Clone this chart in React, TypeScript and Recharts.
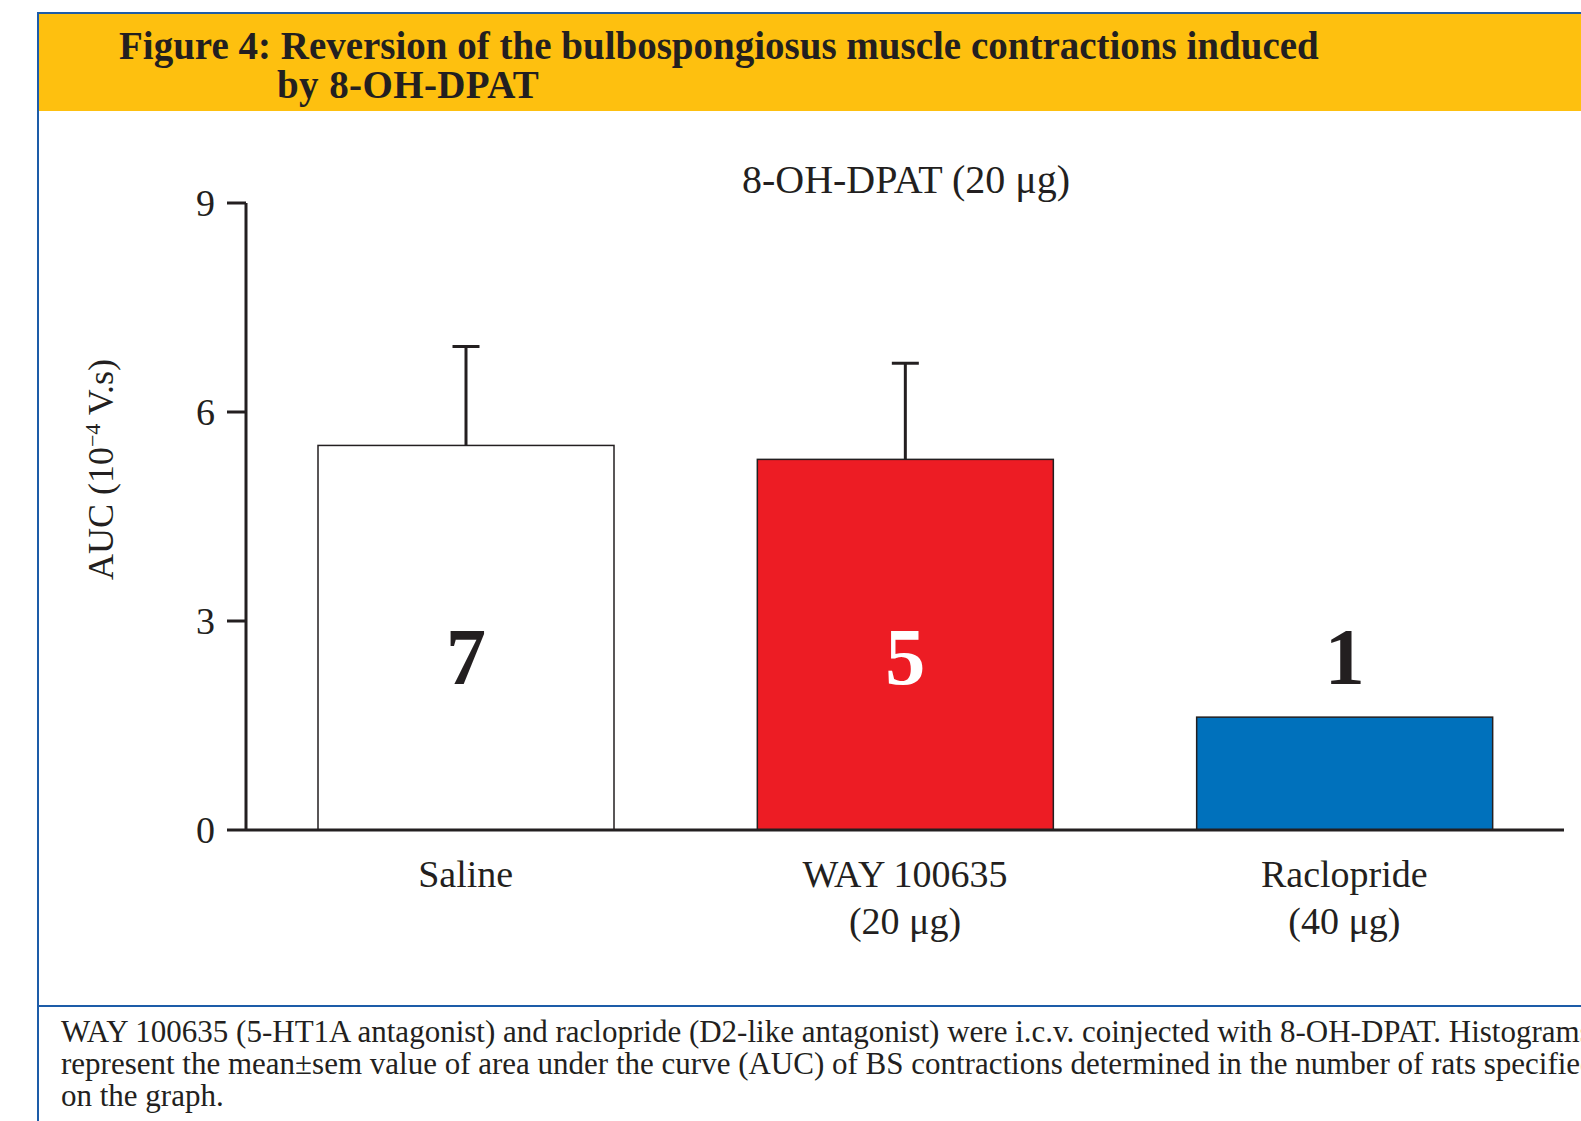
import React from 'react';
import { BarChart, Bar, XAxis, YAxis, Cell, LabelList, Label } from 'recharts';

// values (AUC in 10^-4 V.s)
const categories = ['Saline', 'WAY 100635\n(20 μg)', 'Raclopride\n(40 μg)'];
const auc = [5.52, 5.32, 1.62];
const semUp = [1.42, 1.38, 0];
const nRats = [7, 5, 1];
const yTicks = [0, 3, 6, 9];

const FILLS = ['#ffffff', '#ed1c24', '#0071bc'];
const N_COLORS = ['#231f20', '#ffffff', '#231f20'];
const INK = '#231f20';
const BLUE = '#1d5ca8';
const FONT = '"Liberation Serif", "DejaVu Serif", serif';

const data = categories.map((name, i) => ({
  name,
  auc: auc[i],
  sem: semUp[i],
  n: nRats[i],
}));

const CategoryTick = ({ x, y, payload }: any) => {
  const lines = String(payload.value).split('\n');
  return (
    <text x={x} y={y + 57} textAnchor="middle" fontSize={38} fontFamily={FONT} fill={INK}>
      {lines.map((l, i) => (
        <tspan key={i} x={x} dy={i === 0 ? 0 : 47}>{l}</tspan>
      ))}
    </text>
  );
};

// bar + upper-only sem whisker, scaled from the bar's own pixel height
const BarWithSem = (props: any) => {
  const { x, y, width, height, fill, payload } = props;
  const pxPerUnit = payload.auc ? height / payload.auc : 0;
  const top = y - payload.sem * pxPerUnit;
  const cx = x + width / 2;
  return (
    <g>
      <rect x={x} y={y} width={width} height={height} fill={fill} stroke={INK} strokeWidth={1.5} />
      {payload.sem > 0 && (
        <g stroke={INK} strokeWidth={3}>
          <line x1={cx} x2={cx} y1={y} y2={top} />
          <line x1={cx - 13.5} x2={cx + 13.5} y1={top} y2={top} />
        </g>
      )}
    </g>
  );
};

const CountLabel = (props: any) => {
  const { x, y, width, height, value, index } = props;
  return (
    <text
      x={x + width / 2}
      y={y + height - 146}
      textAnchor="middle"
      fontSize={80}
      fontWeight="bold"
      fontFamily={FONT}
      fill={N_COLORS[index] || INK}
    >
      {value}
    </text>
  );
};

const AxisTitle = ({ viewBox }: any) => {
  const cx = viewBox.x + 28;
  const cy = viewBox.y + viewBox.height / 2 - 47;
  return (
    <text
      x={cx}
      y={cy}
      transform={`rotate(-90 ${cx} ${cy})`}
      textAnchor="middle"
      fontSize={36}
      fontFamily={FONT}
      fill={INK}
    >
      AUC (10<tspan dy={-13} fontSize={22}>−4</tspan>
      <tspan dy={13}> V.s)</tspan>
    </text>
  );
};

export default function App() {
  return (
    <div
      style={{
        position: 'absolute',
        left: 0,
        top: 0,
        width: 1581,
        height: 1121,
        background: '#fff',
        overflow: 'hidden',
        fontFamily: FONT,
        color: INK,
      }}
    >
      {/* frame */}
      <div style={{ position: 'absolute', left: 37, top: 12, width: 1544, height: 2, background: BLUE }} />
      <div style={{ position: 'absolute', left: 37, top: 12, width: 2, height: 1109, background: BLUE }} />
      <div style={{ position: 'absolute', left: 39, top: 14, width: 1542, height: 97, background: '#fec00f' }} />
      <div style={{ position: 'absolute', left: 39, top: 1005, width: 1542, height: 2, background: BLUE }} />

      {/* figure title */}
      <div style={{ position: 'absolute', left: 119, top: 26, fontSize: 39, lineHeight: '39px', fontWeight: 'bold', whiteSpace: 'nowrap' }}>
        Figure 4: Reversion of the bulbospongiosus muscle contractions induced
      </div>
      <div style={{ position: 'absolute', left: 277, top: 65, fontSize: 39, lineHeight: '39px', fontWeight: 'bold', letterSpacing: '0.4px', whiteSpace: 'nowrap' }}>
        by 8-OH-DPAT
      </div>

      {/* chart subtitle */}
      <div style={{ position: 'absolute', left: 606, top: 160, width: 600, textAlign: 'center', fontSize: 40, lineHeight: '40px', whiteSpace: 'nowrap' }}>
        8-OH-DPAT (20 μg)
      </div>

      <div style={{ position: 'absolute', left: 0, top: 0 }}>
        <BarChart
          width={1581}
          height={1005}
          data={data}
          margin={{ top: 203, right: 17, bottom: 45, left: 85 }}
        >
          <XAxis
            dataKey="name"
            interval={0}
            height={130}
            tickLine={false}
            tickSize={0}
            tickMargin={0}
            axisLine={{ stroke: INK, strokeWidth: 3 }}
            tick={<CategoryTick />}
          />
          <YAxis
            type="number"
            domain={[0, 9]}
            ticks={yTicks}
            width={161}
            tickSize={19}
            tickMargin={12}
            axisLine={{ stroke: INK, strokeWidth: 3 }}
            tickLine={{ stroke: INK, strokeWidth: 3 }}
            tick={{ fontSize: 38, fill: INK, fontFamily: FONT }}
          >
            <Label content={<AxisTitle />} />
          </YAxis>
          <Bar dataKey="auc" barSize={296} shape={<BarWithSem />} isAnimationActive={false}>
            {data.map((d, i) => (
              <Cell key={d.name} fill={FILLS[i]} />
            ))}
            <LabelList dataKey="n" content={<CountLabel />} />
          </Bar>
        </BarChart>
      </div>

      {/* caption */}
      <div
        style={{
          position: 'absolute',
          left: 61,
          top: 1016,
          fontSize: 31,
          lineHeight: '32px',
          whiteSpace: 'nowrap',
        }}
      >
        <div>WAY 100635 (5-HT1A antagonist) and raclopride (D2-like antagonist) were i.c.v. coinjected with 8-OH-DPAT. Histograms</div>
        <div>represent the mean±sem value of area under the curve (AUC) of BS contractions determined in the number of rats specified</div>
        <div>on the graph.</div>
      </div>
    </div>
  );
}
